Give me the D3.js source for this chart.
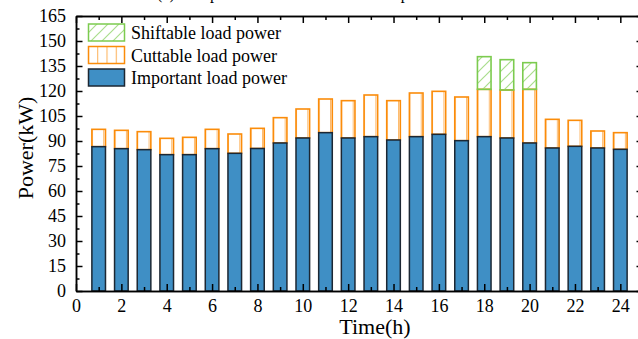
<!DOCTYPE html>
<html>
<head>
<meta charset="utf-8">
<script src="https://cdn.jsdelivr.net/npm/d3@7"></script>
<style>
  body { margin: 0; background: #fff; }
  svg { display: block; font-family: "Liberation Serif", "Times New Roman", serif; }
  .axis path, .axis line { stroke: #000; stroke-width: 1.5; }
  .axis text { font-size: 18px; fill: #000; font-family: "Liberation Serif", serif; }
</style>
</head>
<body>
<svg id="chart" width="638" height="339"></svg>
<script>
// hours 1..24
var hours = d3.range(1, 25);

// (kW)
var important = [86.6, 85.4, 84.8, 81.8, 81.8, 85.4, 82.6, 85.5, 88.8, 91.8, 95.0, 91.8,
                 92.6, 90.6, 92.6, 94.0, 90.2, 92.6, 91.8, 88.8, 85.8, 86.8, 85.8, 85.0];
var cuttable  = [10.4, 11.0, 10.8, 9.8, 10.4, 11.6, 11.6, 12.1, 15.2, 17.4, 20.2, 22.4,
                 25.0, 23.6, 26.2, 25.8, 26.2, 28.4, 28.8, 32.2, 17.2, 15.6, 10.2, 10.0];
var shiftable = [0, 0, 0, 0, 0, 0, 0, 0, 0, 0, 0, 0,
                 0, 0, 0, 0, 0, 19.6, 18.2, 16.0, 0, 0, 0, 0];

var xTicks = d3.range(0, 25, 2);
var xMinor = d3.range(1, 25, 2);
var yTicks = d3.range(0, 166, 15);
var yMinor = d3.range(7.5, 165, 15);

var legendItems = ["Shiftable load power", "Cuttable load power", "Important load power"];

var blue = "#3f8fc5", blueStroke = "#1c2733";
var orange = "#fb8c0a";
var green = "#7ccb4f", greenHatch = "#a9dd8c";

var plotLeft = 76, plotRight = 643, plotTop = 16, plotBottom = 291;

var svg = d3.select("#chart");

var x = d3.scaleLinear().domain([0, 25]).range([plotLeft, plotRight]);
var y = d3.scaleLinear().domain([0, 165]).range([plotBottom, plotTop]);

var bw = 0.6 * (x(1) - x(0));
var step = x(1) - x(0);

var data = hours.map(function (h, i) {
	return { h: h, imp: important[i], cut: cuttable[i], shift: shiftable[i] };
});

// patterns
var defs = svg.append("defs");

var cutPat = defs.append("pattern")
	.attr("id", "cutPat")
	.attr("patternUnits", "userSpaceOnUse")
	.attr("x", x(1) - bw / 2)
	.attr("width", step / 2)
	.attr("height", 10);
cutPat.append("line")
	.attr("x1", 0.5).attr("x2", 0.5).attr("y1", 0).attr("y2", 10)
	.attr("stroke", orange).attr("stroke-opacity", 0.6).attr("stroke-width", 1);

var cutPatLeg = defs.append("pattern")
	.attr("id", "cutPatLeg")
	.attr("patternUnits", "userSpaceOnUse")
	.attr("x", 88)
	.attr("width", 9.25)
	.attr("height", 10);
cutPatLeg.append("line")
	.attr("x1", 0.5).attr("x2", 0.5).attr("y1", 0).attr("y2", 10)
	.attr("stroke", orange).attr("stroke-opacity", 0.7).attr("stroke-width", 1);

var shiftPat = defs.append("pattern")
	.attr("id", "shiftPat")
	.attr("patternUnits", "userSpaceOnUse")
	.attr("width", 11)
	.attr("height", 11);
shiftPat.append("path")
	.attr("d", "M0,11 L11,0 M-3,3 L3,-3 M8,14 L14,8")
	.attr("stroke", greenHatch).attr("stroke-width", 1.2);

// title, mostly cut off at the top
svg.append("text")
	.attr("x", 157)
	.attr("y", -1)
	.attr("font-size", 16)
	.text("(a) Composition of different load components");

// bars
var bars = svg.append("g");

bars.selectAll(".cut")
	.data(data)
	.enter()
	.append("rect")
	.attr("class", "cut")
	.attr("x", function (d) { return x(d.h) - bw / 2; })
	.attr("y", function (d) { return y(d.imp + d.cut); })
	.attr("width", bw)
	.attr("height", function (d) { return y(d.imp) - y(d.imp + d.cut); })
	.attr("fill", "url(#cutPat)")
	.attr("stroke", orange)
	.attr("stroke-width", 1.6);

bars.selectAll(".shift")
	.data(data.filter(function (d) { return d.shift > 0; }))
	.enter()
	.append("rect")
	.attr("class", "shift")
	.attr("x", function (d) { return x(d.h) - bw / 2; })
	.attr("y", function (d) { return y(d.imp + d.cut + d.shift); })
	.attr("width", bw)
	.attr("height", function (d) { return y(d.imp + d.cut) - y(d.imp + d.cut + d.shift); })
	.attr("fill", "url(#shiftPat)")
	.attr("stroke", green)
	.attr("stroke-width", 1.6);

bars.selectAll(".imp")
	.data(data)
	.enter()
	.append("rect")
	.attr("class", "imp")
	.attr("x", function (d) { return x(d.h) - bw / 2; })
	.attr("y", function (d) { return y(d.imp); })
	.attr("width", bw)
	.attr("height", function (d) { return y(0) - y(d.imp); })
	.attr("fill", blue)
	.attr("stroke", blueStroke)
	.attr("stroke-width", 1.5);

// axes (ticks point inside)
function noLabel() { return ""; }

svg.append("g").attr("class", "axis")
	.attr("transform", "translate(0," + plotBottom + ")")
	.call(d3.axisBottom(x).tickValues(xMinor).tickSize(-4).tickSizeOuter(0).tickFormat(noLabel));
svg.append("g").attr("class", "axis")
	.attr("transform", "translate(0," + plotBottom + ")")
	.call(d3.axisBottom(x).tickValues(xTicks).tickSize(-7).tickSizeOuter(0).tickPadding(7))
	.selectAll("text").attr("dy", "0.8em");

svg.append("g").attr("class", "axis")
	.attr("transform", "translate(0," + plotTop + ")")
	.call(d3.axisTop(x).tickValues(xMinor).tickSize(-4).tickSizeOuter(0).tickFormat(noLabel));
svg.append("g").attr("class", "axis")
	.attr("transform", "translate(0," + plotTop + ")")
	.call(d3.axisTop(x).tickValues(xTicks).tickSize(-7).tickSizeOuter(0).tickFormat(noLabel));

svg.append("g").attr("class", "axis")
	.attr("transform", "translate(" + plotLeft + ",0)")
	.call(d3.axisLeft(y).tickValues(yMinor).tickSize(-3.5).tickSizeOuter(0).tickFormat(noLabel));
svg.append("g").attr("class", "axis")
	.attr("transform", "translate(" + plotLeft + ",0)")
	.call(d3.axisLeft(y).tickValues(yTicks).tickSize(-6.5).tickSizeOuter(0).tickPadding(10));

svg.append("g").attr("class", "axis")
	.attr("transform", "translate(" + plotRight + ",0)")
	.call(d3.axisRight(y).tickValues(yMinor).tickSize(-3.5).tickSizeOuter(0).tickFormat(noLabel));
svg.append("g").attr("class", "axis")
	.attr("transform", "translate(" + plotRight + ",0)")
	.call(d3.axisRight(y).tickValues(yTicks).tickSize(-6.5).tickSizeOuter(0).tickFormat(noLabel));

// axis titles
svg.append("text")
	.attr("x", 375)
	.attr("y", 334)
	.attr("text-anchor", "middle")
	.attr("font-size", 22)
	.text("Time(h)");

svg.append("text")
	.attr("transform", "translate(33,148) rotate(-90)")
	.attr("text-anchor", "middle")
	.attr("font-size", 22)
	.text("Power(kW)");

// legend
var swFill = ["url(#shiftPat)", "url(#cutPatLeg)", blue];
var swStroke = [green, orange, blueStroke];
var legend = svg.append("g");
legendItems.forEach(function (name, i) {
	var ly = 24 + i * 22.5;
	legend.append("rect")
		.attr("x", 88.5).attr("y", ly)
		.attr("width", 36).attr("height", 17)
		.attr("fill", swFill[i])
		.attr("stroke", swStroke[i])
		.attr("stroke-width", 1.5);
	legend.append("text")
		.attr("x", 131)
		.attr("y", ly + 15)
		.attr("font-size", 18)
		.text(name);
});
</script>
</body>
</html>
